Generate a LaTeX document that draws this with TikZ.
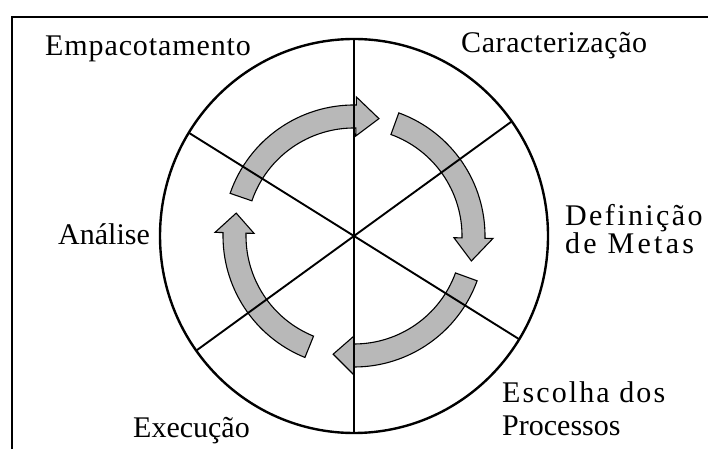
\documentclass[tikz,border=0pt]{standalone}
\usepackage{fontspec}
\setmainfont{Liberation Serif}
\begin{document}
\begin{tikzpicture}[x=1pt,y=1pt,
  lbl/.style={inner sep=0pt, anchor=base west, font=\fontsize{30}{26}\selectfont},
  rim/.style={line width=2.4pt},
  spoke/.style={line width=1.9pt},
  frameline/.style={line width=1.6pt},
  cycarrow/.style={draw=black, line width=1.1pt, fill=black!28, line join=miter}]
\useasboundingbox (0,0) rectangle (708,449);
\fill[white] (0,0) rectangle (708,449);
% frame
\draw[frameline] (12,0) -- (12,432) -- (708,432);
\coordinate (c) at (354,213);
% arrows
\def\rin{108pt}\def\rout{131pt}\def\hin{100pt}\def\hout{139pt}\def\rc{120pt}
\newcommand{\cycarr}[3]{%
  \draw[cycarrow] ([shift={(#1:\rout)}]c) arc[start angle=#1, end angle=#2, radius=\rout]
    -- ([shift={(#2:\hout)}]c) -- ([shift={(#3:\rc)}]c) -- ([shift={(#2:\hin)}]c)
    -- ([shift={(#2:\rin)}]c) arc[start angle=#2, end angle=#1, radius=\rin] -- cycle;}
\cycarr{161}{89}{78}
\cycarr{70}{-1}{-12}
\cycarr{-20}{-90}{-100}
\cycarr{248}{178.5}{169}
% circle and spokes
\draw[rim] (c) ellipse[x radius=194, y radius=197];
\draw[spoke] ([shift={(90:197)}]c) -- ([shift={(270:197)}]c);
\draw[spoke] ([shift={(148:195)}]c) -- ([shift={(-32:195)}]c);
\draw[spoke] ([shift={(36:195)}]c) -- ([shift={(216:195)}]c);
\fill (c) circle[radius=2.2];
% labels
\node[lbl] (emp) at (45,393) {\addfontfeature{LetterSpace=3}Empacotamento};
\node[lbl] (car) at (461,396) {\addfontfeature{LetterSpace=2}Caracterização};
\node[lbl] (def) at (565,223) {\addfontfeature{LetterSpace=8}Definição};
\node[lbl] (met) at (565,195) {\addfontfeature{LetterSpace=11}de Metas};
\node[lbl] (ana) at (58,204) {Análise};
\node[lbl] (exe) at (133,12) {Execução};
\node[lbl] (esc) at (502,46) {\addfontfeature{LetterSpace=7}Escolha dos};
\node[lbl] (pro) at (502,14) {Processos};
\end{tikzpicture}
\end{document}
